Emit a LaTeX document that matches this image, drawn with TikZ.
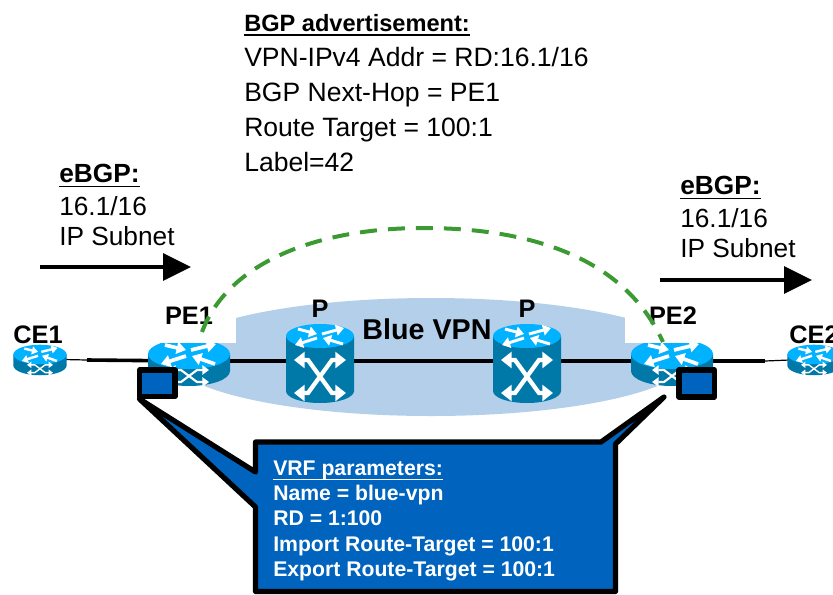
\documentclass[tikz,border=0pt]{standalone}
\usepackage{fontspec}
\setmainfont{Liberation Sans}
\usetikzlibrary{arrows.meta}

\definecolor{vpnblue}{HTML}{B3CFE9}
\definecolor{routertop}{HTML}{00B2FF}
\definecolor{routerbody}{HTML}{0078A8}
\definecolor{vrfblue}{HTML}{0063BE}
\definecolor{sessiongreen}{HTML}{3C9A32}

\tikzset{
    trunk/.style={line width=2.7pt},
    stub/.style={line width=0.9pt},
    flow/.style={line width=3pt, -{Triangle[length=21pt,width=20pt]}},
    session/.style={line width=3pt, sessiongreen, dash pattern=on 12.7pt off 8.3pt},
    vrfline/.style={draw=black, fill=vrfblue, line width=3.9pt, line join=round},
    plain/.style={anchor=north west, inner sep=0pt, align=left},
    tag/.style={inner sep=0pt, font=\fontsize{19}{23}\selectfont\bfseries},
}

% heading with a rule close under its baseline
\newcommand{\headline}[1]{\leavevmode\setbox0=\hbox{#1}\rlap{\rule[-3.2pt]{\wd0}{0.9pt}}\box0}

% #1 = coordinate, #2 = scale
\newcommand{\edgerouter}[2]{
    \begin{scope}[shift={(#1)}, scale=#2, shift={(0,-7)}]
        \fill[routerbody] (-41,0) -- (-41,17) arc[start angle=180, end angle=0, x radius=41, y radius=15] -- (41,0) -- cycle;
        \fill[routertop] (0,0) ellipse[x radius=41, y radius=15];
        \begin{scope}[white, line width=#2*2.8pt]
            \draw[-{Triangle[length=#2*7pt,width=#2*9pt]}] (-24,-9) -- (-3,-4);
            \draw[-{Triangle[length=#2*7pt,width=#2*9pt]}] (2,-4) -- (27,-10);
            \draw[-{Triangle[length=#2*7pt,width=#2*9pt]}] (-3,2) -- (-28,10);
            \draw[-{Triangle[length=#2*7pt,width=#2*9pt]}] (26,10) -- (3,2);
        \end{scope}
        \begin{scope}[white, line width=#2*1.6pt]
            \draw[{Triangle[length=#2*5pt,width=#2*7pt]}-{Triangle[length=#2*5pt,width=#2*7pt]}] (-20,16) -- (-8,16) -- (8,28) -- (20,28);
            \draw[{Triangle[length=#2*5pt,width=#2*7pt]}-{Triangle[length=#2*5pt,width=#2*7pt]}] (-20,28) -- (-8,28) -- (8,16) -- (20,16);
        \end{scope}
    \end{scope}
}

% #1 = coordinate
\newcommand{\corerouter}[1]{
    \begin{scope}[shift={(#1)}]
        \fill[routerbody] (-34,-25) -- (-34,30) arc[start angle=180, end angle=0, x radius=34, y radius=12] -- (34,-25) -- cycle;
        \fill[routertop] (0,-25) ellipse[x radius=34, y radius=12];
        \begin{scope}[white, line width=2.2pt]
            \draw[-{Triangle[length=6pt,width=8pt]}] (-22,-32) -- (-3,-27);
            \draw[-{Triangle[length=6pt,width=8pt]}] (2,-27) -- (24,-33);
            \draw[-{Triangle[length=6pt,width=8pt]}] (-3,-23) -- (-25,-16);
            \draw[-{Triangle[length=6pt,width=8pt]}] (23,-17) -- (3,-23);
        \end{scope}
        \begin{scope}[white, line width=3.2pt]
            \draw[{Triangle[length=8pt,width=12pt]}-{Triangle[length=8pt,width=12pt]}] (-26,-1) -- (-12,-1) -- (12,32) -- (26,32);
            \draw[{Triangle[length=8pt,width=12pt]}-{Triangle[length=8pt,width=12pt]}] (-26,32) -- (-12,32) -- (12,-1) -- (26,-1);
        \end{scope}
    \end{scope}
}

\begin{document}
\begin{tikzpicture}[x=0.75pt, y=-0.75pt]
    \useasboundingbox (0,0) rectangle (833,594);
    \coordinate (CEa) at (40,359);
    \coordinate (CEb) at (814,359);
    \coordinate (PEa) at (189,361);
    \coordinate (PEb) at (672,361);
    \coordinate (Pa) at (320,361);
    \coordinate (Pb) at (527,361);
    \coordinate (joinL) at (87,360);
    \coordinate (joinR) at (765,361);

    % vpn cloud
    \fill[vpnblue] (431,357) ellipse[x radius=260, y radius=59];

    % links
    \draw[stub] (CEa) -- (joinL);
    \draw[trunk] (joinL) -- (PEa);
    \draw[trunk] (PEa) -- (Pa);
    \draw[trunk] (Pa) -- (Pb);
    \draw[trunk] (Pb) -- (PEb);
    \draw[trunk] (PEb) -- (joinR);
    \draw[stub] (joinR) -- (CEb);

    % routers
    \edgerouter{CEa}{0.65}
    \edgerouter{CEb}{0.65}
    \edgerouter{PEa}{1}
    \edgerouter{PEb}{1}
    \corerouter{Pa}
    \corerouter{Pb}

    % label backgrounds
    \fill[white] (150,290) rectangle (236,343);
    \fill[white] (625,290) rectangle (705,343);

    % labels
    \node[tag] (CElabelA) at (38,335) {CE1};
    \node[tag] (CElabelB) at (814,335) {CE2};
    \node[tag] (PElabelA) at (189,316) {PE1};
    \node[tag] (PElabelB) at (673,316) {PE2};
    \node[tag] (PlabelA) at (320,309) {P};
    \node[tag] (PlabelB) at (527,309) {P};
    \node[tag, font=\fontsize{21.5}{25}\selectfont\bfseries] (vpnlabel) at (427,329) {Blue VPN};

    % bgp session
    \coordinate (sessionA) at (202,332);
    \coordinate (sessionTop) at (423,228);
    \coordinate (sessionB) at (663,342);
    \draw[session] (sessionA) .. controls (228,262) and (318,228) .. (sessionTop)
        .. controls (520,228) and (622,252) .. (sessionB);

    % flow arrows
    \coordinate (flowAs) at (40,267);
    \coordinate (flowAe) at (191,267);
    \coordinate (flowBs) at (660,280);
    \coordinate (flowBe) at (812,280);
    \draw[flow] (flowAs) -- (flowAe);
    \draw[flow] (flowBs) -- (flowBe);

    % text blocks
    \node[plain, font=\fontsize{19.9}{26.3}\selectfont] (bgptext) at (244,14)
        {{\fontsize{17.7}{26.3}\selectfont\headline{\textbf{BGP advertisement:}}}\\VPN-IPv4 Addr = RD:16.1/16\\BGP Next-Hop = PE1\\Route Target = 100:1\\Label=42};
    \node[plain, font=\fontsize{19.7}{22.5}\selectfont] (ebgpA) at (59,164)
        {\headline{\textbf{eBGP:}}\\[2.5pt]16.1/16\\IP Subnet};
    \node[plain, font=\fontsize{19.7}{22.5}\selectfont] (ebgpB) at (680,176)
        {\headline{\textbf{eBGP:}}\\[2.5pt]16.1/16\\IP Subnet};

    % vrf boxes and callout
    \draw[vrfline] (139.5,370) rectangle (175,396.5);
    \draw[vrfline] (679,370) rectangle (714.5,397);
    \draw[vrfline] (139.5,399) -- (255.5,472) -- (255.5,442) -- (601,442) -- (664,397) -- (615.5,444)
        -- (615.5,591.5) -- (255.5,591.5) -- (255.5,507) -- cycle;
    \node[plain, white, font=\fontsize{15.9}{18.8}\selectfont\bfseries] (vrftext) at (273,461)
        {\headline{VRF parameters:}\\Name = blue-vpn\\RD = 1:100\\Import Route-Target = 100:1\\Export Route-Target = 100:1};
\end{tikzpicture}
\end{document}
